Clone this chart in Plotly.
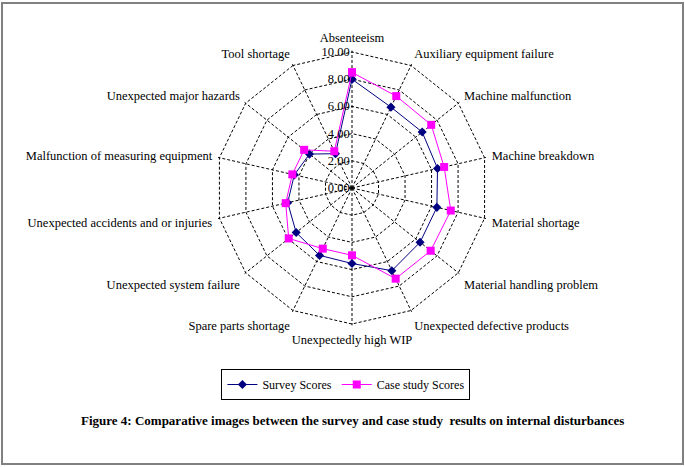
import plotly.graph_objects as go

categories = [
    "Absenteeism", "Auxiliary equipment failure", "Machine malfunction",
    "Machine breakdown", "Material shortage", "Material handling problem",
    "Unexpected defective products", "Unexpectedly high WIP",
    "Spare parts shortage", "Unexpected system failure",
    "Unexpected accidents and or injuries",
    "Malfunction of measuring equipment", "Unexpected major hazards",
    "Tool shortage",
]
survey_scores = [8.0, 6.6, 6.6, 6.45, 6.4, 6.4, 6.75, 5.55, 5.5, 5.25, 4.85, 4.35, 4.0, 2.8]
case_scores = [8.5, 7.5, 7.45, 6.95, 7.45, 7.4, 7.4, 4.95, 4.95, 5.95, 5.0, 4.5, 4.5, 3.0]
radial_ticks = [0, 2, 4, 6, 8, 10]

FONT = "Liberation Serif"
DASH = "3px,2px"

def closed(v):
    return list(v) + [v[0]]

fig = go.Figure()
fig.add_trace(go.Scatterpolar(
    r=closed(survey_scores), theta=closed(categories), mode="lines+markers",
    name="Survey Scores",
    line=dict(color="#000080", width=1),
    marker=dict(symbol="diamond", size=7, color="#000080"),
))
fig.add_trace(go.Scatterpolar(
    r=closed(case_scores), theta=closed(categories), mode="lines+markers",
    name="Case study Scores",
    line=dict(color="#FF00FF", width=1),
    marker=dict(symbol="square", size=8, color="#FF00FF"),
))

W, H = 685, 467
RMAX = 10.1
cx, cy = 352, 188
R = 136 * RMAX / 10

fig.update_layout(
    width=W, height=H,
    margin=dict(l=0, r=0, t=0, b=0),
    paper_bgcolor="white",
    font=dict(family=FONT, size=12.5, color="black"),
    polar=dict(
        domain=dict(x=[(cx - R) / W, (cx + R) / W],
                    y=[(H - cy - R) / H, (H - cy + R) / H]),
        bgcolor="white",
        gridshape="linear",
        radialaxis=dict(
            range=[0, RMAX], tickvals=radial_ticks, tickformat=".2f",
            angle=90, side="counterclockwise", showline=False,
            tickangle=90,
            gridcolor="black", griddash=DASH, gridwidth=1,
            ticks="", tickfont=dict(family=FONT, size=12.5),
        ),
        angularaxis=dict(
            direction="clockwise", rotation=90,
            categoryorder="array", categoryarray=categories,
            showline=False,
            gridcolor="black", griddash=DASH, gridwidth=1,
            ticks="outside", ticklen=3, tickcolor="rgba(0,0,0,0)",
            tickfont=dict(family=FONT, size=12.5),
        ),
    ),
    legend=dict(
        orientation="h", x=0.505, xanchor="center", y=(H - 369) / H, yanchor="top",
        bordercolor="black", borderwidth=1, bgcolor="white",
        font=dict(family=FONT, size=12),
    ),
    shapes=[dict(type="rect", xref="paper", yref="paper",
                 x0=2 / W, x1=683 / W, y0=3 / H, y1=(H - 3) / H,
                 line=dict(color="#808080", width=2))],
    annotations=[dict(
        text="<b>Figure 4: Comparative images between the survey and case study  results on internal disturbances</b>",
        xref="paper", yref="paper", x=352 / W, y=(H - 420) / H,
        xanchor="center", yanchor="middle", showarrow=False,
        font=dict(family=FONT, size=13),
    )],
)

fig.write_html("out.html", config={"displayModeBar": False},
               post_script="document.body.style.margin='0';")
